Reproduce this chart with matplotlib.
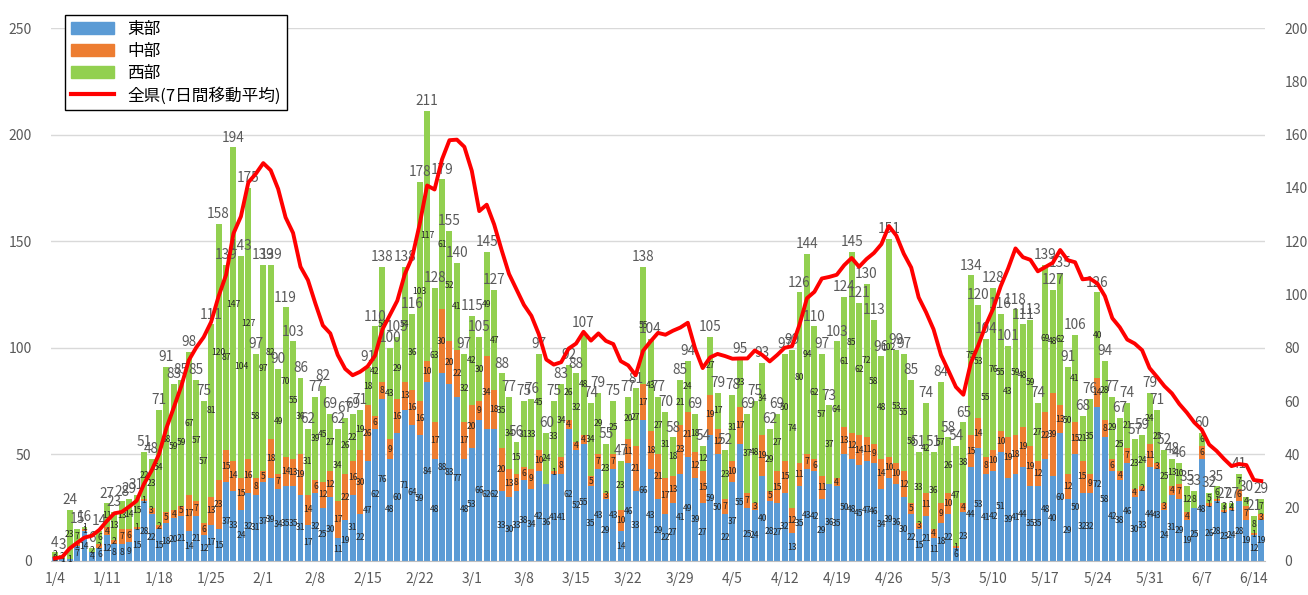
import numpy as np
import pandas as pd
import matplotlib
matplotlib.use("Agg")
import matplotlib.pyplot as plt
from matplotlib.patches import Patch
from matplotlib.lines import Line2D

plt.rcParams['font.family'] = ['Noto Sans CJK JP', 'DejaVu Sans']

# daily cases, one row per week starting 1/4
east = [
    2, 1, 1, 7, 14, 4, 6,
    12, 8, 8, 9, 15, 28, 22,
    15, 18, 20, 21, 14, 21, 12,
    17, 15, 37, 33, 24, 32, 31,
    37, 39, 34, 35, 35, 31, 17,
    32, 25, 30, 11, 19, 31, 22,
    47, 62, 76, 48, 60, 71, 64,
    59, 84, 48, 88, 83, 77, 48,
    53, 66, 62, 62, 33, 30, 33,
    38, 34, 42, 36, 41, 41, 62,
    52, 55, 35, 43, 29, 43, 14,
    46, 33, 66, 43, 29, 22, 27,
    41, 49, 39, 27, 59, 50, 22,
    37, 55, 25, 24, 40, 28, 27,
    32, 13, 35, 43, 42, 29, 36,
    35, 50, 48, 45, 47, 46, 34,
    39, 36, 30, 22, 15, 21, 11,
    18, 22, 6, 23, 44, 53, 41,
    42, 51, 39, 41, 44, 35, 35,
    48, 40, 60, 29, 50, 32, 32,
    72, 58, 42, 38, 46, 30, 33,
    44, 43, 24, 31, 29, 19, 25,
    48, 26, 28, 23, 24, 28, 19,
    12, 19]
central = [
    0, 0, 0, 1, 1, 0, 2,
    4, 2, 7, 6, 1, 1, 3,
    2, 5, 4, 5, 17, 7, 6,
    13, 23, 15, 14, 15, 16, 8,
    5, 18, 7, 14, 13, 19, 14,
    6, 12, 12, 17, 22, 16, 30,
    26, 6, 8, 9, 16, 13, 16,
    16, 10, 17, 30, 20, 22, 17,
    20, 9, 34, 18, 20, 13, 8,
    6, 9, 10, 0, 1, 8, 4,
    4, 4, 5, 7, 3, 7, 10,
    11, 21, 17, 18, 21, 17, 13,
    23, 21, 12, 15, 19, 12, 7,
    10, 17, 7, 3, 19, 5, 15,
    15, 12, 11, 7, 6, 11, 0,
    4, 13, 12, 14, 11, 9, 14,
    10, 10, 12, 5, 3, 11, 4,
    9, 10, 1, 4, 15, 14, 8,
    10, 10, 19, 18, 19, 19, 12,
    22, 39, 13, 12, 15, 15, 9,
    14, 8, 6, 4, 7, 4, 2,
    11, 3, 3, 4, 7, 4, 0,
    6, 1, 1, 1, 1, 6, 7,
    1, 3]
west = [
    2, 2, 23, 7, 1, 2, 6,
    11, 13, 13, 14, 15, 22, 23,
    54, 68, 59, 59, 67, 57, 57,
    81, 120, 87, 147, 104, 127, 58,
    97, 82, 49, 70, 55, 36, 31,
    39, 45, 27, 34, 26, 22, 19,
    18, 42, 54, 43, 29, 54, 36,
    103, 117, 63, 61, 52, 41, 32,
    42, 30, 49, 47, 35, 34, 15,
    31, 33, 45, 24, 33, 34, 26,
    32, 48, 34, 29, 23, 25, 23,
    20, 27, 55, 43, 27, 31, 18,
    21, 24, 18, 12, 27, 17, 23,
    31, 23, 37, 48, 34, 29, 27,
    50, 74, 80, 94, 62, 57, 37,
    64, 61, 85, 62, 72, 58, 48,
    102, 53, 55, 58, 33, 42, 36,
    57, 26, 47, 38, 75, 53, 55,
    76, 55, 43, 59, 48, 59, 27,
    69, 48, 62, 50, 41, 21, 35,
    40, 28, 29, 25, 21, 23, 24,
    24, 25, 25, 13, 10, 12, 8,
    6, 5, 6, 3, 2, 7, 4,
    8, 7]
# 全県 7日間移動平均 (right axis)
avg7 = [
    1.0, 1.5, 4.7, 6.8, 8.8, 9.5, 11.7,
    15.0, 17.9, 18.4, 20.4, 22.6, 29.0, 33.9,
    40.1, 49.9, 57.7, 65.7, 75.3, 80.1, 84.0,
    89.7, 99.3, 107.3, 122.9, 129.3, 142.1, 145.3,
    149.3, 146.6, 139.6, 128.9, 123.1, 110.4, 105.4,
    96.6, 88.4, 85.4, 77.3, 72.1, 69.7, 71.0,
    73.0, 77.0, 86.9, 92.3, 97.7, 107.6, 114.0,
    126.4, 140.9, 139.4, 150.7, 157.9, 158.1, 155.4,
    146.4, 131.3, 133.7, 126.3, 116.7, 107.7, 101.9,
    96.1, 92.0, 85.1, 75.6, 73.7, 74.6, 79.7,
    81.6, 86.0, 82.7, 85.4, 82.6, 81.4, 75.0,
    73.4, 69.7, 78.9, 82.4, 85.6, 84.9, 86.4,
    87.6, 89.4, 79.6, 72.4, 76.4, 77.7, 76.9,
    75.9, 76.0, 76.0, 79.0, 77.3, 74.9, 77.3,
    80.0, 80.6, 88.7, 98.6, 101.0, 106.0, 106.6,
    107.4, 111.0, 113.7, 110.4, 113.3, 115.6, 118.9,
    125.7, 122.1, 115.3, 110.1, 98.9, 93.3, 86.9,
    77.3, 71.4, 65.3, 62.4, 74.3, 80.9, 88.4,
    94.7, 103.0, 109.7, 117.3, 114.0, 113.0, 108.7,
    110.3, 111.9, 116.7, 112.9, 112.1, 105.7, 106.0,
    104.1, 99.4, 91.1, 87.7, 83.1, 81.6, 79.1,
    72.4, 69.1, 65.6, 62.9, 58.9, 55.7, 52.0,
    49.3, 43.7, 41.3, 38.3, 35.6, 36.4, 36.0,
    30.4, 30.0]

dates = pd.date_range("2021-01-04", periods=len(east), freq="D")
day_labels = [f"{d.month}/{d.day}" for d in dates]

BLUE = "#5B9BD5"
ORANGE = "#ED7D31"
GREEN = "#92D050"
RED = "#FF0000"
GREY = "#595959"

east = np.array(east)
central = np.array(central)
west = np.array(west)
total = east + central + west
x = np.arange(len(east))

fig = plt.figure(figsize=(13.08, 5.95), dpi=100)
ax = fig.add_axes([51 / 1308, 1 - 561 / 595, (1265 - 51) / 1308, (561 - 28) / 595])

w = 0.8
ax.bar(x, east, w, color=BLUE, zorder=2)
ax.bar(x, central, w, bottom=east, color=ORANGE, zorder=2)
ax.bar(x, west, w, bottom=east + central, color=GREEN, zorder=2)

# segment labels
for vals, base in [(east, 0 * east), (central, east), (west, east + central)]:
    for i, (v, b) in enumerate(zip(vals, base)):
        if v > 0:
            ax.text(i, b + v / 2, str(v), ha="center", va="center",
                    fontsize=6.2, color="#262626", zorder=3)

# totals
for i, t in enumerate(total):
    ax.annotate(str(t), (i, t), xytext=(0, 2), textcoords="offset points",
                ha="center", va="bottom", fontsize=9.8, color=GREY, zorder=3)

ax.set_xlim(-0.5, len(x) - 0.5)
ax.set_ylim(0, 250)
ax.set_yticks(range(0, 251, 50))
ax.set_xticks(x[::7])
ax.set_xticklabels(day_labels[::7])
ax.grid(axis="y", color="#D9D9D9", lw=1, zorder=0)
ax.set_axisbelow(True)
for s in ["top", "left", "right"]:
    ax.spines[s].set_visible(False)
ax.spines["bottom"].set_color("#BFBFBF")
ax.tick_params(axis="both", length=0, labelsize=10, labelcolor=GREY)
ax.tick_params(axis="y", pad=14)
ax.tick_params(axis="x", pad=8)

ax2 = ax.twinx()
ax2.plot(x, avg7, color=RED, lw=2.8, zorder=4)
ax2.set_ylim(0, 200)
ax2.set_yticks(range(0, 201, 20))
for s in ax2.spines.values():
    s.set_visible(False)
ax2.tick_params(axis="y", length=0, labelsize=10, labelcolor=GREY, pad=14)

handles = [Patch(color=BLUE, label="東部"),
           Patch(color=ORANGE, label="中部"),
           Patch(color=GREEN, label="西部"),
           Line2D([0], [0], color=RED, lw=3, label="全県(7日間移動平均)")]
leg = ax2.legend(handles=handles, loc="upper left",
                 bbox_to_anchor=(65 / 1308, 1 - 15 / 595),
                 bbox_transform=fig.transFigure, fancybox=False,
                 edgecolor="black", framealpha=1, fontsize=12,
                 borderaxespad=0, handlelength=2.6, handleheight=0.8,
                 labelspacing=0.3, borderpad=0.35)
leg.get_frame().set_linewidth(1.0)

fig.savefig("out.png", dpi=100)
